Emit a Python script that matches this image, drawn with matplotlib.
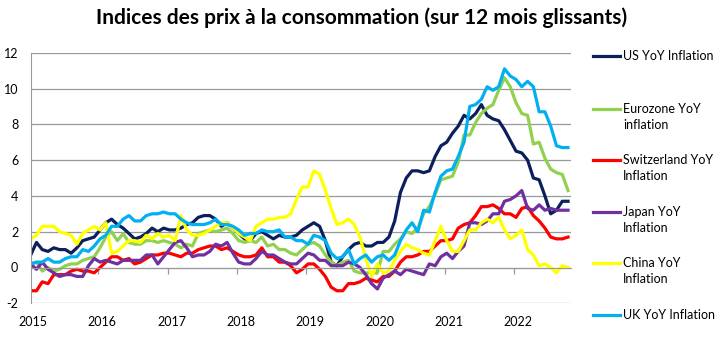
import matplotlib
matplotlib.use("Agg")
import matplotlib.pyplot as plt
from matplotlib.lines import Line2D
import numpy as np

# Monthly YoY inflation, first point on the left edge of the axis
year_labels = ["2015", "2016", "2017", "2018", "2019", "2020", "2021", "2022"]

us = [0.7,
      1.4, 1.0, 0.9, 1.1, 1.0, 1.0, 0.8, 1.1, 1.5, 1.6, 1.7, 2.1,
      2.5, 2.7, 2.4, 2.2, 1.9, 1.6, 1.7, 1.9, 2.2, 2.0, 2.2, 2.1,
      2.1, 2.2, 2.4, 2.5, 2.8, 2.9, 2.9, 2.7, 2.3, 2.5, 2.2, 1.9,
      1.6, 1.5, 1.9, 2.0, 1.8, 1.6, 1.8, 1.7, 1.7, 1.8, 2.1, 2.3,
      2.5, 2.3, 1.5, 0.3, 0.1, 0.6, 1.0, 1.3, 1.4, 1.2, 1.2, 1.4,
      1.4, 1.7, 2.6, 4.2, 5.0, 5.4, 5.4, 5.3, 5.4, 6.2, 6.8, 7.0,
      7.5, 7.9, 8.5, 8.3, 8.6, 9.1, 8.5, 8.3, 8.2, 7.7, 7.1, 6.5,
      6.4, 6.0, 5.0, 4.9, 4.0, 3.0, 3.2, 3.7, 3.7]

eurozone = [0.2,
            0.3, -0.2, 0.0, -0.2, -0.1, 0.1, 0.2, 0.2, 0.4, 0.5, 0.6, 1.1,
            1.7, 2.0, 1.5, 1.9, 1.4, 1.3, 1.3, 1.5, 1.5, 1.4, 1.5, 1.4,
            1.3, 1.1, 1.3, 1.2, 1.9, 2.0, 2.1, 2.0, 2.1, 2.2, 1.9, 1.5,
            1.4, 1.5, 1.4, 1.7, 1.2, 1.3, 1.0, 1.0, 0.8, 0.7, 1.0, 1.3,
            1.4, 1.2, 0.7, 0.3, 0.1, 0.3, 0.4, -0.2, -0.3, -0.3, -0.3, -0.3,
            0.9, 0.9, 1.3, 1.6, 2.0, 1.9, 2.2, 3.0, 3.4, 4.1, 4.9, 5.0,
            5.1, 5.9, 7.4, 7.4, 8.1, 8.6, 8.9, 9.1, 9.9, 10.6, 10.1, 9.2,
            8.6, 8.5, 6.9, 7.0, 6.1, 5.5, 5.3, 5.2, 4.3]

switzerland = [-1.3,
               -1.3, -0.8, -0.9, -0.4, -0.4, -0.4, -0.2, -0.1, -0.2, -0.2, -0.3, 0.0,
               0.3, 0.6, 0.6, 0.4, 0.5, 0.2, 0.3, 0.5, 0.7, 0.7, 0.8, 0.8,
               0.7, 0.6, 0.8, 0.8, 1.0, 1.1, 1.2, 1.2, 1.0, 1.1, 0.9, 0.7,
               0.6, 0.6, 0.7, 1.1, 0.6, 0.6, 0.3, 0.3, 0.1, -0.3, -0.1, 0.2,
               0.2, -0.1, -0.5, -1.1, -1.3, -1.3, -0.9, -0.9, -0.8, -0.6, -0.7, -0.8,
               -0.5, -0.5, -0.2, 0.3, 0.6, 0.6, 0.7, 0.9, 0.9, 1.2, 1.5, 1.5,
               1.6, 2.2, 2.4, 2.5, 2.9, 3.4, 3.4, 3.5, 3.3, 3.0, 3.0, 2.8,
               3.3, 3.4, 2.9, 2.6, 2.2, 1.7, 1.6, 1.6, 1.7]

japan = [0.2,
         -0.1, 0.3, -0.1, -0.3, -0.5, -0.4, -0.4, -0.5, -0.5, 0.1, 0.5, 0.3,
         0.4, 0.3, 0.2, 0.4, 0.4, 0.4, 0.4, 0.7, 0.7, 0.2, 0.6, 1.0,
         1.4, 1.5, 1.1, 0.6, 0.7, 0.7, 0.9, 1.3, 1.2, 1.4, 0.8, 0.3,
         0.2, 0.2, 0.5, 0.9, 0.7, 0.7, 0.5, 0.3, 0.2, 0.2, 0.5, 0.8,
         0.7, 0.4, 0.4, 0.1, 0.1, 0.1, 0.3, 0.2, 0.0, -0.4, -0.9, -1.2,
         -0.6, -0.4, -0.2, -0.4, -0.1, -0.2, -0.3, -0.4, 0.2, 0.1, 0.6, 0.8,
         0.5, 0.9, 1.2, 2.5, 2.5, 2.4, 2.6, 3.0, 3.0, 3.7, 3.8, 4.0,
         4.3, 3.3, 3.2, 3.5, 3.2, 3.3, 3.2, 3.2, 3.2]

china = [1.6,
         1.8, 2.3, 2.3, 2.3, 2.0, 1.9, 1.8, 1.3, 1.9, 2.1, 2.3, 2.1,
         2.5, 0.8, 0.9, 1.2, 1.5, 1.5, 1.4, 1.8, 1.6, 1.9, 1.7, 1.8,
         1.5, 2.9, 2.1, 1.8, 1.8, 1.9, 2.1, 2.3, 2.5, 2.5, 2.2, 1.9,
         1.7, 1.5, 2.3, 2.5, 2.7, 2.7, 2.8, 2.8, 3.0, 3.8, 4.5, 4.5,
         5.4, 5.2, 4.3, 3.3, 2.4, 2.5, 2.7, 2.4, 1.7, 0.5, -0.5, 0.2,
         -0.3, -0.2, 0.4, 0.9, 1.3, 1.1, 1.0, 0.8, 0.7, 1.5, 2.3, 1.5,
         0.9, 0.9, 1.5, 2.1, 2.1, 2.5, 2.7, 2.5, 2.8, 2.1, 1.6, 1.8,
         2.1, 1.0, 0.7, 0.1, 0.2, 0.0, -0.3, 0.1, 0.0]

uk = [0.2,
      0.3, 0.3, 0.5, 0.3, 0.3, 0.5, 0.6, 0.6, 1.0, 0.9, 1.2, 1.6,
      1.8, 2.3, 2.3, 2.7, 2.9, 2.6, 2.6, 2.9, 3.0, 3.0, 3.1, 3.0,
      3.0, 2.7, 2.5, 2.4, 2.4, 2.4, 2.5, 2.7, 2.4, 2.4, 2.3, 2.1,
      1.8, 1.9, 1.9, 2.1, 2.0, 2.0, 2.1, 1.7, 1.7, 1.5, 1.5, 1.3,
      1.8, 1.7, 1.5, 0.8, 0.5, 0.6, 1.0, 0.2, 0.5, 0.7, 0.3, 0.6,
      0.7, 0.4, 0.7, 1.5, 2.1, 2.5, 2.0, 3.2, 3.1, 4.2, 5.1, 5.4,
      5.5, 6.2, 7.0, 9.0, 9.1, 9.4, 10.1, 9.9, 10.1, 11.1, 10.7, 10.5,
      10.1, 10.4, 10.1, 8.7, 8.7, 7.9, 6.8, 6.7, 6.7]

series = [
    ("US YoY Inflation", us, "#0c1f5c"),
    ("Eurozone YoY\ninflation", eurozone, "#92d050"),
    ("Switzerland YoY\nInflation", switzerland, "#ff0000"),
    ("Japan YoY\nInflation", japan, "#7030a0"),
    ("China YoY\nInflation", china, "#ffff00"),
    ("UK YoY Inflation", uk, "#00b0f0"),
]

plt.rcParams['axes.unicode_minus'] = False
plt.rcParams['font.family'] = 'Lato'

W, H = 718, 344
fig = plt.figure(figsize=(W / 100, H / 100), dpi=100)
ax = fig.add_axes([30.7 / W, 1 - 303.3 / H, 540.8 / W, 250.6 / H])

months = np.arange(len(us))
for label, vals, color in series:
    ax.plot(months, vals, color=color, lw=2.3, solid_joinstyle='round')

grey = '#989898'
ax.set_xlim(0, 93.6)
ax.set_ylim(-2, 12)
ax.set_yticks(range(-2, 13, 2))
ax.yaxis.grid(True, color=grey, lw=0.9)
ax.set_axisbelow(True)
for s in ('top', 'right'):
    ax.spines[s].set_visible(False)
ax.spines['left'].set_color(grey)
ax.spines['bottom'].set_color(grey)
ax.spines['bottom'].set_position(('data', 0))

# tick marks sit on the zero line, year labels along the bottom
ax.set_xticks([12 * k - 0.3 for k in range(1, 8)])
ax.tick_params(axis='x', length=4, width=0.9, color=grey, labelbottom=False)
ax.tick_params(axis='y', length=0, pad=9, labelsize=9)

secx = ax.secondary_xaxis('bottom')
secx.set_xticks([12 * k + 0.4 for k in range(len(year_labels))], labels=year_labels)
secx.tick_params(length=0, pad=9, labelsize=9)
secx.spines['bottom'].set_visible(False)

fig.text(361.5 / W, 1 - 24 / H, "Indices des prix à la consommation (sur 12 mois glissants)",
         ha='center', va='baseline', fontsize=15, fontweight='bold')

# legend on the right, line level with the first text line
legend_y = [56, 109, 160, 211.7, 262.7, 315]
for (label, vals, color), y in zip(series, legend_y):
    fig.add_artist(Line2D([592.7 / W, 620 / W], [1 - y / H, 1 - y / H],
                          color=color, lw=2.3, transform=fig.transFigure))
    for j, line in enumerate(label.split('\n')):
        fig.text(623.3 / W, 1 - (y + 4.3 + 16 * j) / H, line,
                 fontsize=9, va='baseline', ha='left')

fig.savefig('out.png', dpi=100)
